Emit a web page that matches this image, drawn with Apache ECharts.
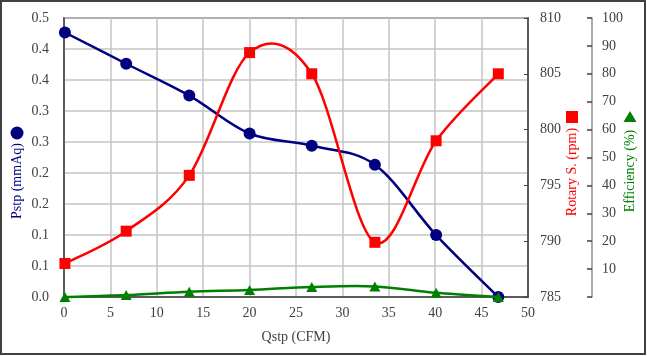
<!DOCTYPE html>
<html><head><meta charset="utf-8">
<script src="https://cdn.jsdelivr.net/npm/echarts@6/dist/echarts.min.js"></script>
<style>html,body{margin:0;padding:0;background:#fff}#c{width:647px;height:356px}</style>
</head><body><div id="c"></div>
<script>
var qstp = [0.1, 6.7, 13.5, 20.0, 26.7, 33.5, 40.1, 46.8];
var pstp = [0.474, 0.418, 0.361, 0.293, 0.271, 0.237, 0.111, 0.0];
var rotary = [788.0, 790.9, 795.9, 806.9, 805.0, 789.9, 799.0, 805.0];
var efficiency = [0, 0.7, 1.9, 2.5, 3.6, 3.8, 1.5, 0];
var xName = 'Qstp (CFM)';
var leftName = 'Pstp (mmAq)';
var rpmName = 'Rotary S. (rpm)';
var effName = 'Efficiency (%)';

function pairs(xs, ys){ return xs.map(function(x,i){return [x, ys[i]];}); }
var FONT = 'Liberation Serif';
var AX = '#404040';

// Smooth curve (Catmull-Rom style bezier) through points placed by the axis scales
function curveSeries(data, yIdx, color){
  return {
    type:'custom', yAxisIndex:yIdx, data:data, z:2, clip:false,
    renderItem:function(params, api){
      if (params.dataIndex !== 0) return null;
      var p = data.map(function(d){ return api.coord(d); });
      var n = p.length, path = 'M' + p[0][0] + ' ' + p[0][1];
      for (var i = 0; i < n - 1; i++) {
        var p0 = p[Math.max(i-1,0)], p1 = p[i], p2 = p[i+1], p3 = p[Math.min(i+2,n-1)];
        var c1x = p1[0] + (p2[0]-p0[0])/6, c1y = p1[1] + (p2[1]-p0[1])/6;
        var c2x = p2[0] - (p3[0]-p1[0])/6, c2y = p2[1] - (p3[1]-p1[1])/6;
        path += ' C' + c1x + ' ' + c1y + ' ' + c2x + ' ' + c2y + ' ' + p2[0] + ' ' + p2[1];
      }
      return {type:'path', shape:{pathData:path}, style:{fill:null, stroke:color, lineWidth:2.5, lineJoin:'round'}};
    }
  };
}
function markerSeries(data, yIdx, color, symbol, size, z){
  return {type:'scatter', yAxisIndex:yIdx, data:data, symbol:symbol, symbolSize:size,
    itemStyle:{color:color, opacity:1}, z:z, clip:false};
}

var dP = pairs(qstp, pstp), dR = pairs(qstp, rotary), dE = pairs(qstp, efficiency);
var chart = echarts.init(document.getElementById('c'), null, {renderer:'canvas'});
chart.setOption({
  animation:false,
  backgroundColor:'#fff',
  grid:{left:64, right:119, top:18, bottom:59, show:true, borderColor:AX, borderWidth:1.5},
  xAxis:{type:'value', min:0, max:50, interval:5,
    axisLine:{show:true, lineStyle:{color:AX, width:1.5}}, axisTick:{show:false},
    splitLine:{show:true, lineStyle:{color:'#c4c4c4', width:1.5}},
    axisLabel:{fontFamily:FONT, fontSize:14, color:AX, margin:9},
    name:xName, nameLocation:'middle', nameGap:33,
    nameTextStyle:{fontFamily:FONT, fontSize:14, color:AX}},
  yAxis:[
    {type:'value', position:'left', min:0, max:0.5, interval:0.5/9,
     axisLine:{show:true, lineStyle:{color:AX, width:1.5}}, axisTick:{show:false},
     splitLine:{show:true, lineStyle:{color:'#c4c4c4', width:1.5}},
     axisLabel:{fontFamily:FONT, fontSize:14, color:AX, margin:15,
       formatter:function(v){return v.toFixed(1);}}},
    {type:'value', position:'right', min:785, max:810, interval:5,
     axisLine:{show:true, lineStyle:{color:AX, width:1.5}},
     axisTick:{show:true, inside:true, length:4, lineStyle:{color:AX}},
     splitLine:{show:false},
     axisLabel:{fontFamily:FONT, fontSize:14, color:AX, margin:12}},
    {type:'value', position:'right', offset:64, min:0, max:100, interval:10,
     axisLine:{show:true, lineStyle:{color:'#8c8c8c', width:1.5}},
     axisTick:{show:true, inside:true, length:5, lineStyle:{color:AX, width:1.5}},
     splitLine:{show:false}, showMinLabel:false,
     axisLabel:{fontFamily:FONT, fontSize:14, color:AX, margin:10,
       formatter:function(v){return v===0?'':String(v);}}}
  ],
  series:[
    curveSeries(dP, 0, '#000080'),
    markerSeries(dP, 0, '#000080', 'circle', 12, 4),
    (function(s){ s.z = 5; return s; })(curveSeries(dR, 1, '#ff0000')),
    markerSeries(dR, 1, '#ff0000', 'rect', 11, 6),
    (function(s){ s.z = 7; return s; })(curveSeries(dE, 2, '#008000')),
    markerSeries(dE, 2, '#008000', 'triangle', [11,10], 8)
  ],
  graphic:[
    {type:'rect', shape:{x:1, y:1, width:644, height:353}, style:{fill:null, stroke:'#404040', lineWidth:2}, silent:true},
    {type:'text', x:17, y:181, rotation:Math.PI/2, style:{text:leftName, font:'14px "Liberation Serif"', fill:'#000080', align:'center', verticalAlign:'middle'}},
    {type:'circle', shape:{cx:17, cy:133, r:6.5}, style:{fill:'#000080'}},
    {type:'text', x:572, y:172, rotation:Math.PI/2, style:{text:rpmName, font:'14px "Liberation Serif"', fill:'#ff0000', align:'center', verticalAlign:'middle'}},
    {type:'rect', shape:{x:566, y:111, width:12, height:12}, style:{fill:'#ff0000'}},
    {type:'text', x:630, y:171, rotation:Math.PI/2, style:{text:effName, font:'14px "Liberation Serif"', fill:'#008000', align:'center', verticalAlign:'middle'}},
    {type:'polygon', shape:{points:[[630,111],[636.5,122],[623.5,122]]}, style:{fill:'#008000'}}
  ]
});
</script></body></html>
